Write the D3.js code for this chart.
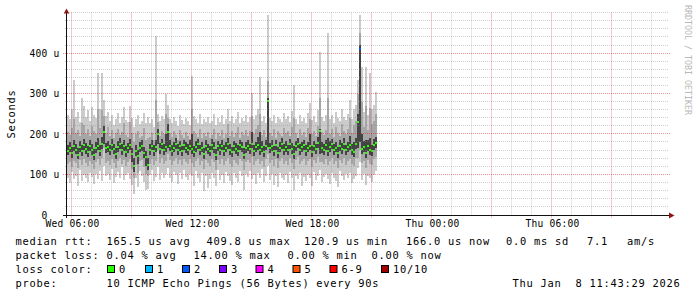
<!DOCTYPE html>
<html><head><meta charset="utf-8">
<script src="https://cdn.jsdelivr.net/npm/d3@7"></script>
<style>
html,body{margin:0;padding:0;background:#fff;}
svg{display:block;}
text{font-family:"DejaVu Sans Mono",monospace;white-space:pre;}
</style>
</head><body>
<svg id="c" width="697" height="297"></svg>
<script>
// ---------- DATA (values in microseconds) ----------
const startTime = new Date(2026, 0, 7, 5, 46, 30);   // left edge of plot
const endTime   = new Date(2026, 0, 8, 11, 46, 30);  // right edge of plot
const stepMinutes = 6;                                // one column per 6 min

const medianRtt = [
158,166,152,170,161,149,168,157,172,163,
155,169,160,147,165,171,158,176,205,164,
167,159,173,162,151,168,175,160,170,156,
164,172,150,121,158,145,166,170,153,142,
123,160,171,158,167,200,163,174,161,168,
205,170,158,166,175,161,169,157,172,165,
160,171,163,155,168,174,159,166,151,170,
162,157,173,165,148,169,160,171,158,166,
175,161,154,169,163,158,172,167,149,165,
170,162,176,158,167,173,160,168,155,171,
281,164,170,157,172,152,166,175,160,168,
159,174,163,150,169,176,161,167,172,158,
166,171,155,169,162,178,207,165,160,172,
157,168,174,161,166,153,170,163,175,159,
167,172,160,156,174,230,410,163,168,152,
170,161,158,173,178];

// lowest ping (p1)
const pingMin = [
92,78,105,88,97,72,110,84,99,90,
81,104,93,76,100,89,108,83,120,95,
101,86,112,79,94,106,90,117,85,98,
103,88,74,52,91,68,107,96,80,61,
64,99,110,83,94,118,87,104,92,100,
115,90,81,106,98,75,102,88,111,93,
85,100,95,71,109,91,82,104,58,97,
66,89,103,92,70,110,86,99,79,105,
96,84,73,102,90,81,108,95,62,100,
93,107,88,99,76,104,91,113,80,97,
120,86,101,74,95,68,103,90,85,98,
79,106,92,60,97,88,102,70,94,83,
99,91,72,105,87,96,110,81,93,101,
89,76,103,92,84,69,107,95,86,100,
91,104,78,88,97,115,130,85,101,74,
96,90,82,99,108];

// second ping (p2)
const pingLow2 = [
125,130,118,133,127,115,136,122,138,129,
120,134,126,112,131,137,124,140,165,128,
133,124,139,127,116,134,141,125,136,121,
130,138,114,90,123,104,132,136,118,100,
95,126,137,123,133,160,128,140,126,134,
150,136,123,132,141,126,135,122,138,131,
125,137,128,119,134,140,124,132,112,136,
127,121,139,131,110,135,125,137,123,132,
141,126,118,135,129,123,138,133,111,131,
136,128,142,123,133,139,125,134,119,137,
150,129,136,121,138,115,132,141,125,134,
124,140,129,112,135,142,126,133,138,122,
132,137,119,135,127,144,130,130,125,138,
122,134,140,126,132,116,136,128,141,124,
133,138,125,120,140,140,160,128,134,115,
136,126,122,139,144];

// fourth ping (p4)
const pingLow4 = [
148,154,140,157,150,137,156,145,160,151,
143,157,148,135,153,159,146,163,175,152,
155,147,161,150,139,156,163,148,158,144,
152,160,130,105,146,125,154,158,141,120,
110,148,159,146,155,175,151,162,149,156,
165,158,146,154,163,149,157,145,160,153,
148,159,151,143,156,162,147,154,138,158,
150,145,161,153,136,157,148,159,146,154,
163,149,142,157,151,146,160,155,137,153,
158,150,164,146,155,161,148,156,143,159,
168,152,158,145,160,140,154,163,148,156,
147,162,151,138,157,164,149,155,160,146,
154,159,143,157,150,166,150,153,148,160,
145,156,162,149,154,141,158,151,163,147,
155,160,148,144,162,165,180,151,156,140,
158,149,146,161,166];

// seventh ping (p7)
const pingHigh7 = [
172,180,168,186,175,164,183,172,188,177,
170,184,174,163,180,190,172,192,220,178,
182,173,188,176,166,183,190,174,186,170,
178,188,165,140,172,160,180,184,168,158,
140,174,185,172,185,212,177,188,175,200,
225,184,172,180,189,175,183,171,186,179,
174,185,200,169,182,188,173,180,166,184,
176,171,187,179,163,183,174,185,172,180,
190,175,168,183,177,172,186,181,164,179,
184,176,205,172,181,192,205,182,170,185,
290,178,184,171,186,167,180,189,174,182,
173,188,177,170,183,190,175,181,186,172,
180,200,169,183,176,192,212,179,174,186,
190,182,188,175,180,167,184,177,189,173,
181,195,174,180,190,250,420,200,182,185,
184,190,172,187,192];

// ninth ping (p9)
const pingHigh9 = [
205,198,214,236,202,209,196,228,221,200,
212,195,219,206,199,262,214,258,245,203,
218,194,209,190,201,213,197,205,226,198,
193,230,202,180,199,208,189,196,214,185,
190,192,201,185,285,230,196,207,199,250,
240,203,192,206,197,186,210,198,190,204,
196,188,262,207,199,193,212,190,201,195,
205,191,198,213,187,203,194,210,190,200,
224,196,207,192,202,217,191,204,197,210,
194,206,245,200,211,223,250,198,209,193,
330,203,196,211,191,206,200,195,214,201,
208,196,218,240,202,190,211,198,204,193,
215,238,199,207,194,220,290,205,198,210,
290,200,211,192,217,203,196,225,207,199,
213,240,202,222,233,300,450,280,216,270,
209,265,224,231,250];

// highest ping (p10)
const pingMax = [
248,236,262,333,241,255,229,290,270,243,
258,232,266,247,239,350,262,350,285,244,
254,231,246,222,238,251,226,243,267,235,
229,269,240,218,236,247,224,233,252,228,
241,226,237,218,442,249,231,244,236,299,
272,238,226,243,231,219,246,234,225,240,
232,221,343,245,236,228,249,224,238,230,
242,226,233,250,221,239,229,247,224,236,
262,231,244,227,238,255,226,240,232,247,
229,243,301,236,248,262,341,233,245,227,
494,239,231,248,226,242,236,229,251,237,
244,230,256,321,238,225,247,233,240,228,
252,276,235,244,229,258,402,241,233,247,
449,236,248,227,255,239,231,262,243,235,
250,284,238,261,272,333,494,365,254,365,
247,350,262,271,304];

// lost pings per column (out of 10)
const lostPings = [
0,0,0,0,0,0,0,0,0,0, 0,0,0,0,0,0,0,0,0,0,
0,0,0,0,0,0,0,0,0,0, 0,0,0,0,0,0,0,0,0,0,
0,0,0,0,0,0,0,0,0,0, 0,0,0,0,0,0,0,0,0,0,
0,0,0,0,0,0,0,0,0,0, 0,0,0,0,0,0,0,0,0,0,
0,0,0,0,0,0,0,0,0,0, 0,0,0,0,0,0,0,0,0,0,
0,0,0,0,0,0,0,0,0,0, 0,0,0,0,0,0,0,0,0,0,
0,0,0,0,0,0,0,0,0,0, 0,0,0,0,0,0,0,0,0,0,
0,0,0,0,0,0,2,0,0,0, 0,0,0,0,0];

const yLabelTicks = [0, 100, 200, 300, 400];
const yMajorTicks = [100, 200, 300, 400];
const yMax = 500;

const lossLabels = ["0", "1", "2", "3", "4", "5", "6-9", "10/10"];
const lossColors = ["#26ff00", "#00b8ff", "#0059ff", "#7e00ff", "#ff00ff", "#ff5500", "#ff0000", "#a10000"];

const rttStats = ["165.5 us avg", "409.8 us max", "120.9 us min", "166.0 us now", "0.0 ms sd", "7.1", "am/s"];
const lossStats = ["0.04 % avg", "14.00 % max", "0.00 % min", "0.00 % now"];
const probeText = "10 ICMP Echo Pings (56 Bytes) every 90s";
const stampText = "Thu Jan  8 11:43:29 2026";

// ---------- DRAW ----------
const svg = d3.select("#c");
svg.append("rect").attr("width", 697).attr("height", 297).attr("fill", "#fff");

const x = d3.scaleTime().domain([startTime, endTime]).range([67, 667]);
const y = d3.scaleLinear().domain([0, yMax]).range([214.7, 12.7]);

const cols = medianRtt.map((m, i) => ({
  t0: d3.timeMinute.offset(startTime, i * stepMinutes),
  t1: d3.timeMinute.offset(startTime, (i + 1) * stepMinutes),
  med: m, p1: pingMin[i], p2: pingLow2[i], p4: pingLow4[i],
  p7: pingHigh7[i], p9: pingHigh9[i], p10: pingMax[i], loss: lostPings[i]
}));

function lossColor(n) {
  if (n <= 5) return lossColors[n];
  if (n < 10) return lossColors[6];
  return lossColors[7];
}

const bands = [
  {lo: "p1", hi: "p10", color: "#cbcbcb"},
  {lo: "p2", hi: "p9", color: "#a6a6a6"},
  {lo: "p4", hi: "p7", color: "#444444"}
];
const gData = svg.append("g").attr("shape-rendering", "crispEdges");
bands.forEach(b => {
  gData.append("g").selectAll("rect").data(cols).join("rect")
    .attr("x", d => x(d.t0))
    .attr("width", d => x(d.t1) - x(d.t0))
    .attr("y", d => y(d[b.hi]))
    .attr("height", d => Math.max(1, y(d[b.lo]) - y(d[b.hi])))
    .attr("fill", b.color);
});
gData.append("g").selectAll("rect").data(cols).join("rect")
  .attr("x", d => x(d.t0))
  .attr("width", d => x(d.t1) - x(d.t0))
  .attr("y", d => Math.round(y(d.med)) - 1)
  .attr("height", 2)
  .attr("fill", d => lossColor(d.loss));

// grid
const gGrid = svg.append("g");
const hours = d3.timeHour.range(startTime, endTime);
hours.forEach(h => {
  const major = h.getHours() % 3 === 0;
  const px = Math.floor(x(h)) + 0.5;
  gGrid.append("line").attr("x1", px).attr("x2", px)
    .attr("y1", 12.5).attr("y2", major ? 218 : 216)
    .attr("stroke", major ? "rgba(205,0,0,0.42)" : "rgba(140,140,140,0.42)")
    .attr("stroke-dasharray", "1,1");
});
d3.range(20, yMax + 1, 20).forEach(v => {
  const major = yMajorTicks.includes(v);
  const py = Math.floor(y(v)) + 0.5;
  gGrid.append("line").attr("x1", major ? 63 : 65).attr("x2", major ? 670 : 668)
    .attr("y1", py).attr("y2", py)
    .attr("stroke", major ? "rgba(205,0,0,0.42)" : "rgba(140,140,140,0.42)")
    .attr("stroke-dasharray", "1,1");
});

// axis lines + arrows
svg.append("line").attr("x1", 63).attr("x2", 669).attr("y1", 215.5).attr("y2", 215.5)
  .attr("stroke", "#111").attr("stroke-width", 1);
svg.append("line").attr("x1", 66.5).attr("x2", 66.5).attr("y1", 218).attr("y2", 12)
  .attr("stroke", "#111").attr("stroke-width", 1);
svg.append("path").attr("d", "M669,212.5L669,218.5L674.5,215.5Z").attr("fill", "#8c1414");
svg.append("path").attr("d", "M63.8,13.5L69.3,13.5L66.5,8.5Z").attr("fill", "#8c1414");

// y axis labels
const yAxis = d3.axisLeft(y).tickValues(yLabelTicks).tickSize(0)
  .tickFormat(v => v === 0 ? "0" : v + " u");
const gy = svg.append("g").attr("transform", "translate(66.5,0)").call(yAxis);
gy.select(".domain").remove();
gy.attr("font-family", null).attr("font-size", null);
gy.selectAll("text").attr("x", 44.5 - 66.5).attr("text-anchor", "middle")
  .attr("dy", "0.36em").attr("font-size", "9.6px").attr("letter-spacing", "0.22px").attr("fill", "#000");

// x axis labels
const xLabelTicks = d3.timeHour.every(6).range(startTime, endTime);
const xAxis = d3.axisBottom(x).tickValues(xLabelTicks).tickSize(0)
  .tickFormat(d3.timeFormat("%a %H:%M"));
const gx = svg.append("g").attr("transform", "translate(0.5,215)").call(xAxis);
gx.select(".domain").remove();
gx.attr("font-family", null).attr("font-size", null);
gx.selectAll("text").attr("y", 12.4).attr("dy", "0").attr("font-size", "9.6px")
  .attr("letter-spacing", "0.22px").attr("fill", "#000");

// vertical title
svg.append("text").attr("transform", "translate(15,114) rotate(-90)")
  .attr("text-anchor", "middle").attr("font-size", "10.4px").attr("letter-spacing", "0.74px")
  .attr("fill", "#000").text("Seconds");

// watermark
svg.append("text").attr("transform", "translate(684.5,5) rotate(90)")
  .attr("font-size", "8.3px").attr("letter-spacing", "0px")
  .attr("fill", "#b8b8b8").text("RRDTOOL / TOBI OETIKER");

// legend
function lt(px, py, s) {
  svg.append("text").attr("x", px).attr("y", py)
    .attr("font-size", "10.4px").attr("letter-spacing", "0.74px").attr("fill", "#000").text(s);
}
const rows = [244.5, 258.7, 272.9, 287.1];
lt(15.5, rows[0], "median rtt:");
[106.5, 206.5, 304, 406, 506, 587, 627].forEach((px, i) => lt(px, rows[0], rttStats[i]));
lt(15.5, rows[1], "packet loss:");
[106.5, 193.5, 287.5, 371.5].forEach((px, i) => lt(px, rows[1], lossStats[i]));
lt(15.5, rows[2], "loss color:");
const sqX = [107.5, 145.5, 182.5, 219.5, 256, 293, 330, 381.5];
lossLabels.forEach((lab, i) => {
  svg.append("rect").attr("x", sqX[i]).attr("y", 265.5).attr("width", 7).attr("height", 7)
    .attr("fill", lossColors[i]).attr("stroke", "#000").attr("stroke-width", 1);
  lt(sqX[i] + 11.5, rows[2], lab);
});
lt(15.5, rows[3], "probe:");
lt(106.5, rows[3], probeText);
lt(512.5, rows[3], stampText);
</script>
</body></html>
